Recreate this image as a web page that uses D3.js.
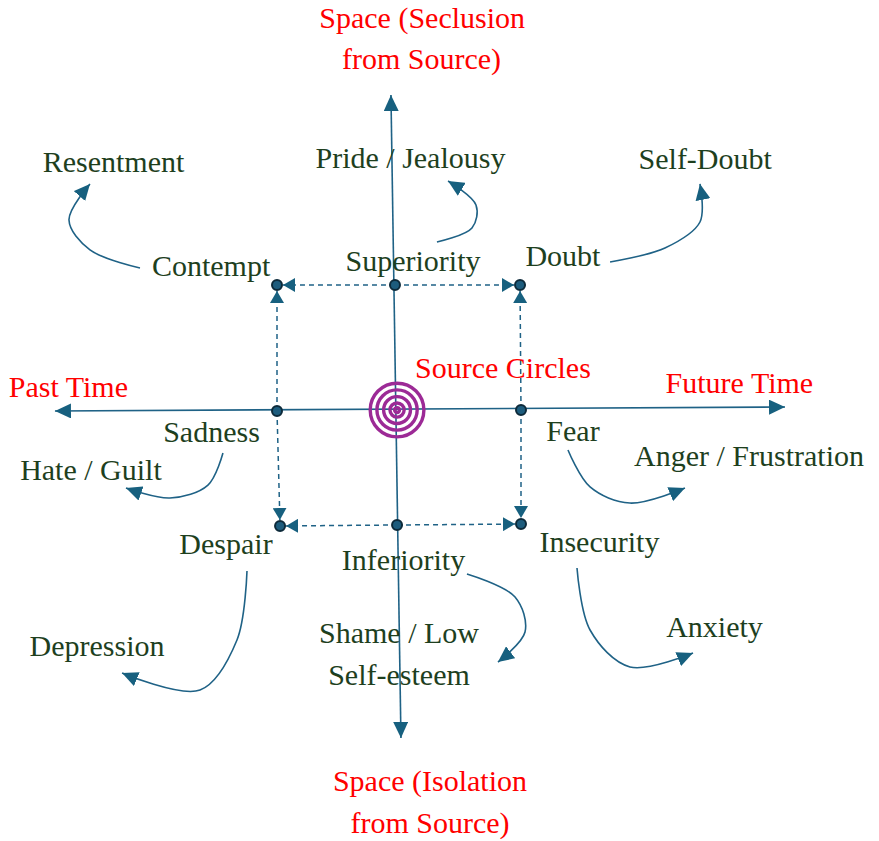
<!DOCTYPE html>
<meta charset="utf-8">
<style>
	body { margin: 0; background: #fff; }
	svg text { font-family: "Liberation Serif", "LiberationSerif", Tinos, "Times New Roman", Times, "DejaVu Serif", "Noto Serif", FreeSerif, "Nimbus Roman", "Nimbus Roman No9 L", Georgia, serif; font-size: 30px; }
	.lbl { fill: #1e3f1e; }
	.key { fill: #ff0000; }
	.axis { stroke: #1f6286; stroke-width: 1.6px; fill: none; }
	.dash { stroke: #1f6286; stroke-width: 1.5px; stroke-dasharray: 5,4; fill: none; }
	.flow { stroke: #1f6286; stroke-width: 1.6px; fill: none; }
	.ring { stroke: #9c2a96; stroke-width: 3.4px; fill: none; }
	.node { fill: #1d5c7d; stroke: #0d2a3a; stroke-width: 2px; }
</style>
<svg width="879" height="841"></svg>
<script src="https://cdn.jsdelivr.net/npm/d3@7/dist/d3.min.js"></script>
<script>

// diagram units: the dashed square has its corners at about +-1

var axisLines = [
	{id: "space", from: [0.016, -2.775], to: [-0.066, 2.583]},
	{id: "time", from: [-2.82, -0.05], to: [3.164, -0.017]}
];

var nodes = [
	{id: "TL", u: -1, v: 1},
	{id: "TM", u: -0.033, v: 1},
	{id: "TR", u: 0.992, v: 1},
	{id: "ML", u: -1, v: -0.05},
	{id: "MR", u: 1, v: -0.042},
	{id: "BL", u: -0.975, v: -1.008},
	{id: "BM", u: -0.016, v: -1},
	{id: "BR", u: 1, v: -0.992}
];

var dashedLinks = [
	["TM", "TL"], ["TM", "TR"],
	["ML", "TL"], ["ML", "BL"],
	["MR", "TR"], ["MR", "BR"],
	["BM", "BL"], ["BM", "BR"]
];

var sourceCentre = [-0.016, -0.042];
var ringRadii = [0.22, 0.165, 0.11, 0.058, 0.02];

var emotions = [
	{text: "Superiority", u: 0.115, v: 1.12},
	{text: "Contempt", u: -1.54, v: 1.075},
	{text: "Doubt", u: 1.344, v: 1.158},
	{text: "Pride / Jealousy", u: 0.094, v: 1.975},
	{text: "Resentment", u: -2.34, v: 1.94},
	{text: "Self-Doubt", u: 2.51, v: 1.967},
	{text: "Sadness", u: -1.537, v: -0.308},
	{text: "Hate / Guilt", u: -2.525, v: -0.625},
	{text: "Fear", u: 1.426, v: -0.3},
	{text: "Anger / Frustration", u: 2.869, v: -0.508},
	{text: "Despair", u: -1.418, v: -1.242},
	{text: "Depression", u: -2.475, v: -2.092},
	{text: "Inferiority", u: 0.037, v: -1.375},
	{text: "Shame / Low", u: 0, v: -1.983},
	{text: "Self-esteem", u: 0, v: -2.333},
	{text: "Insecurity", u: 1.643, v: -1.225},
	{text: "Anxiety", u: 2.586, v: -1.933}
];

var axisTitles = [
	{text: "Space (Seclusion", u: 0.19, v: 3.14},
	{text: "from Source)", u: 0.185, v: 2.8},
	{text: "Past Time", u: -2.71, v: 0.067},
	{text: "Future Time", u: 2.79, v: 0.1},
	{text: "Source Circles", u: 0.852, v: 0.225},
	{text: "Space (Isolation", u: 0.254, v: -3.217},
	{text: "from Source)", u: 0.254, v: -3.567}
];

// each emotion leads on to the next one
var flows = [
	[[-2.123, 1.142], [-2.533, 1.292], [-2.705, 1.542], [-2.533, 1.842]],
	[[0.311, 1.358], [0.598, 1.475], [0.631, 1.667], [0.402, 1.867]],
	[[1.730, 1.192], [2.180, 1.308], [2.467, 1.525], [2.467, 1.842]],
	[[-1.443, -0.4], [-1.566, -0.667], [-1.877, -0.775], [-2.238, -0.692]],
	[[1.385, -0.375], [1.566, -0.683], [1.893, -0.817], [2.344, -0.692]],
	[[-1.246, -1.383], [-1.328, -1.958], [-1.631, -2.375], [-2.270, -2.233]],
	[[0.557, -1.408], [0.951, -1.6], [1.033, -1.892], [0.811, -2.142]],
	[[1.459, -1.358], [1.566, -1.875], [1.893, -2.183], [2.410, -2.067]]
];

var svg = d3.select("svg");

var x = d3.scaleLinear().domain([-1, 1]).range([277, 521]),
	y = d3.scaleLinear().domain([-1, 1]).range([525, 285]);

var defs = svg.append("defs");

function marker(id, len, wid) {
	defs.append("marker")
		.attr("id", id)
		.attr("viewBox", "0 0 " + len + " " + wid)
		.attr("refX", len)
		.attr("refY", wid / 2)
		.attr("markerWidth", len)
		.attr("markerHeight", wid)
		.attr("markerUnits", "userSpaceOnUse")
		.attr("orient", "auto-start-reverse")
		.append("path")
		.attr("d", "M0,0L" + len + "," + (wid / 2) + "L0," + wid + "Z")
		.attr("fill", "#17607f");
}
marker("head", 16, 15);
marker("small", 12, 14);

// axes
svg.append("g").selectAll("line")
	.data(axisLines).enter().append("line")
	.attr("class", "axis")
	.attr("x1", function(d) { return x(d.from[0]); })
	.attr("y1", function(d) { return y(d.from[1]); })
	.attr("x2", function(d) { return x(d.to[0]); })
	.attr("y2", function(d) { return y(d.to[1]); })
	.attr("marker-start", "url(#head)")
	.attr("marker-end", "url(#head)");

// dashed square
var byId = {};
nodes.forEach(function(n) { byId[n.id] = n; });
var nodeR = 5;

svg.append("g").selectAll("line")
	.data(dashedLinks).enter().append("line")
	.attr("class", "dash")
	.each(function(d) {
		var a = byId[d[0]], b = byId[d[1]];
		var x1 = x(a.u), y1 = y(a.v), x2 = x(b.u), y2 = y(b.v);
		var len = Math.hypot(x2 - x1, y2 - y1), k = (len - nodeR - 1) / len;
		d3.select(this)
			.attr("x1", x1).attr("y1", y1)
			.attr("x2", x1 + (x2 - x1) * k)
			.attr("y2", y1 + (y2 - y1) * k)
			.attr("marker-end", "url(#small)");
	});

// source circles
svg.append("g").selectAll("circle")
	.data(ringRadii).enter().append("circle")
	.attr("class", "ring")
	.attr("cx", x(sourceCentre[0]))
	.attr("cy", y(sourceCentre[1]))
	.attr("r", function(d) { return x(d) - x(0); });

svg.append("g").selectAll("circle")
	.data(nodes).enter().append("circle")
	.attr("class", "node")
	.attr("cx", function(d) { return x(d.u); })
	.attr("cy", function(d) { return y(d.v); })
	.attr("r", nodeR);

// curved arrows
var curve = d3.line()
	.curve(d3.curveCatmullRom.alpha(0.5))
	.x(function(d) { return x(d[0]); })
	.y(function(d) { return y(d[1]); });

svg.append("g").selectAll("path")
	.data(flows).enter().append("path")
	.attr("class", "flow")
	.attr("d", curve)
	.attr("marker-end", "url(#head)");

svg.append("g").selectAll("text")
	.data(emotions).enter().append("text")
	.attr("class", "lbl")
	.attr("text-anchor", "middle")
	.attr("x", function(d) { return x(d.u); })
	.attr("y", function(d) { return y(d.v); })
	.text(function(d) { return d.text; });

svg.append("g").selectAll("text")
	.data(axisTitles).enter().append("text")
	.attr("class", "key")
	.attr("text-anchor", "middle")
	.attr("x", function(d) { return x(d.u); })
	.attr("y", function(d) { return y(d.v); })
	.text(function(d) { return d.text; });

</script>
